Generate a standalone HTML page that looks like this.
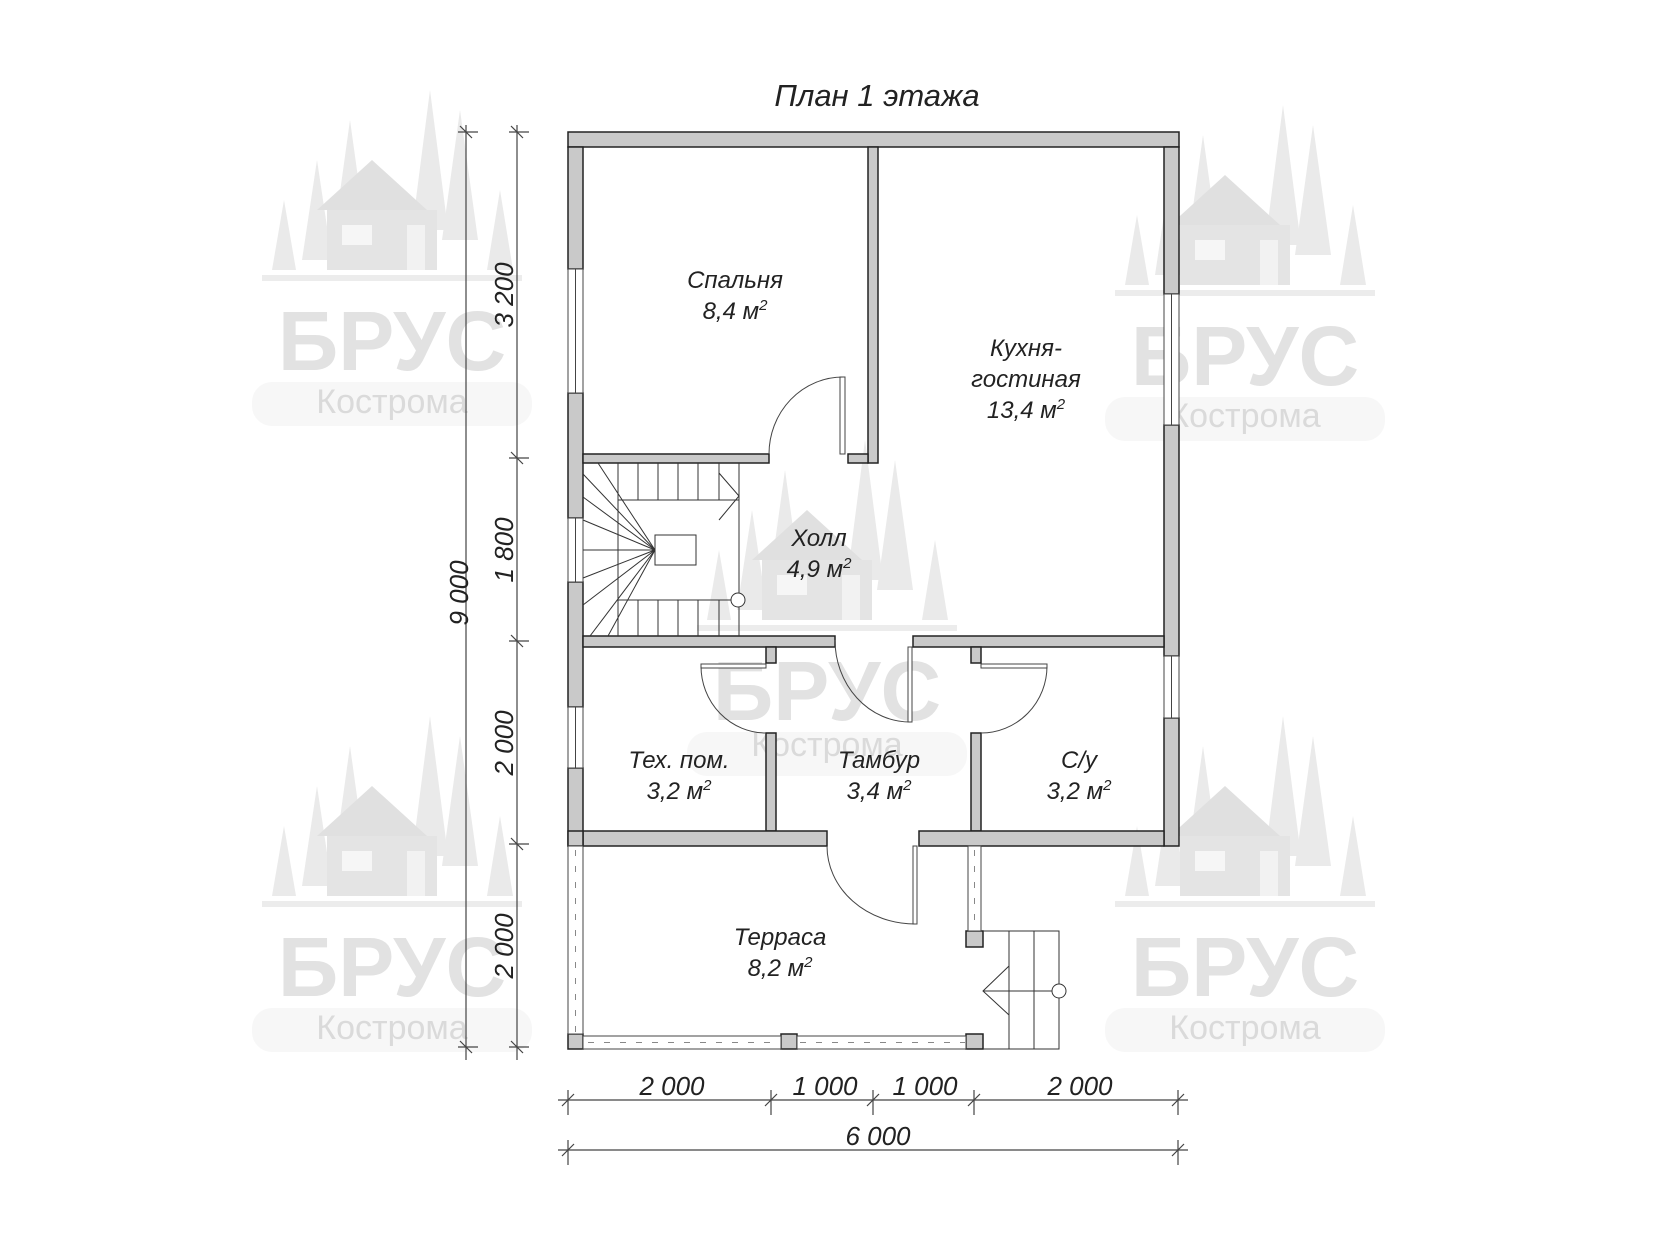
<!DOCTYPE html>
<html><head><meta charset="utf-8"><style>
html,body{margin:0;padding:0;background:#fff;}
svg{display:block;}
text{font-family:"Liberation Sans",sans-serif;font-style:italic;fill:#222;}
.wm{font-style:normal;fill:#e2e2e2;font-weight:bold;}
.wk{font-style:normal;fill:#dadada;}
</style></head><body>
<svg width="1653" height="1240" viewBox="0 0 1653 1240" xmlns="http://www.w3.org/2000/svg">
<defs>
<g id="logo">
<g fill="#eaeaea">
<polygon points="-90,-10 -75,-110 -60,-10"/>
<polygon points="-60,-20 -42,-150 -24,-20"/>
<polygon points="20,-40 38,-180 56,-40"/>
<polygon points="50,-30 68,-160 86,-30"/>
<polygon points="-120,0 -108,-70 -96,0"/>
<polygon points="95,0 108,-80 121,0"/>
</g>
<polygon points="-75,-60 -20,-110 35,-60" fill="#e0e0e0"/>
<rect x="-65" y="-60" width="110" height="60" fill="#e4e4e4"/>
<rect x="-50" y="-45" width="30" height="20" fill="#f6f6f6"/>
<rect x="15" y="-45" width="18" height="45" fill="#f2f2f2"/>
<rect x="-130" y="5" width="260" height="6" fill="#ececec"/>
<rect x="-140" y="112" width="280" height="44" rx="20" fill="#f7f7f7"/>
</g>
</defs>
<use href="#logo" x="392" y="270"/>
<use href="#logo" x="392" y="896"/>
<use href="#logo" x="1245" y="285"/>
<use href="#logo" x="1245" y="896"/>
<use href="#logo" x="827" y="620"/>
<g text-anchor="middle">
<text class="wm" x="392" y="370" font-size="84">БРУС</text>
<text class="wk" x="392" y="413" font-size="34">Кострома</text>
<text class="wm" x="392" y="996" font-size="84">БРУС</text>
<text class="wk" x="392" y="1039" font-size="34">Кострома</text>
<text class="wm" x="1245" y="385" font-size="84">БРУС</text>
<text class="wk" x="1245" y="427" font-size="34">Кострома</text>
<text class="wm" x="1245" y="996" font-size="84">БРУС</text>
<text class="wk" x="1245" y="1039" font-size="34">Кострома</text>
<text class="wm" x="827" y="720" font-size="84">БРУС</text>
<text class="wk" x="827" y="756" font-size="34">Кострома</text>
</g>

<text x="877" y="106" font-size="31" text-anchor="middle">План 1 этажа</text>

<g fill="#c9c9c9" stroke="#222" stroke-width="1.5">
<rect x="568" y="132" width="611" height="15"/>
<rect x="568" y="147" width="15" height="122"/>
<rect x="568" y="393" width="15" height="125"/>
<rect x="568" y="582" width="15" height="125"/>
<rect x="568" y="768" width="15" height="78"/>
<rect x="1164" y="147" width="15" height="147"/>
<rect x="1164" y="425" width="15" height="231"/>
<rect x="1164" y="718" width="15" height="128"/>
<rect x="868" y="147" width="10" height="316"/>
<rect x="583" y="454" width="186" height="9"/>
<rect x="848" y="454" width="20" height="9"/>
<rect x="583" y="636" width="252" height="11"/>
<rect x="913" y="636" width="251" height="11"/>
<rect x="766" y="647" width="10" height="16"/>
<rect x="766" y="733" width="10" height="98"/>
<rect x="971" y="647" width="10" height="16"/>
<rect x="971" y="733" width="10" height="98"/>
<rect x="583" y="831" width="244" height="15"/>
<rect x="919" y="831" width="245" height="15"/>
<rect x="568" y="831" width="15" height="15"/>
<rect x="568" y="1034" width="15" height="15"/>
<rect x="781" y="1034" width="16" height="15"/>
<rect x="966" y="1034" width="17" height="15"/>
<rect x="966" y="931" width="17" height="16"/>
</g>

<g fill="#fff" stroke="#444" stroke-width="1">
<rect x="568" y="269" width="15" height="124"/><line x1="575.5" y1="269" x2="575.5" y2="393"/>
<rect x="568" y="518" width="15" height="64"/><line x1="575.5" y1="518" x2="575.5" y2="582"/>
<rect x="568" y="707" width="15" height="61"/><line x1="575.5" y1="707" x2="575.5" y2="768"/>
<rect x="1164" y="294" width="15" height="131"/><line x1="1171.5" y1="294" x2="1171.5" y2="425"/>
<rect x="1164" y="656" width="15" height="62"/><line x1="1171.5" y1="656" x2="1171.5" y2="718"/>
<rect x="568" y="846" width="15" height="188"/>
<rect x="583" y="1036" width="198" height="13"/>
<rect x="797" y="1036" width="169" height="13"/>
<rect x="968" y="846" width="13" height="85"/>
</g>
<g stroke="#888" stroke-width="1" stroke-dasharray="6,10">
<line x1="575.5" y1="850" x2="575.5" y2="1032"/>
<line x1="588" y1="1042.5" x2="780" y2="1042.5"/>
<line x1="800" y1="1042.5" x2="965" y2="1042.5"/>
<line x1="974.5" y1="850" x2="974.5" y2="930"/>
</g>

<g fill="none" stroke="#444" stroke-width="1">
<rect x="840" y="377" width="5" height="77" fill="#fff"/>
<path d="M843 377 A74 77 0 0 0 769 454"/>
<rect x="908" y="647" width="4" height="75" fill="#fff"/>
<path d="M835 640 A75 82 0 0 0 910 722"/>
<rect x="701" y="664" width="65" height="4" fill="#fff"/>
<path d="M701 666 A65 67 0 0 0 766 733"/>
<rect x="981" y="664" width="66" height="4" fill="#fff"/>
<path d="M1047 666 A66 67 0 0 1 981 733"/>
<rect x="913" y="846" width="4" height="78" fill="#fff"/>
<path d="M827 846 A88 78 0 0 0 915 924"/>
</g>

<g fill="none" stroke="#333" stroke-width="1">
<line x1="739" y1="463" x2="739" y2="636"/>
<rect x="618" y="500" width="121" height="100"/>
<rect x="655" y="535" width="41" height="30" fill="#fff"/>
<line x1="638" y1="463" x2="638" y2="500"/>
<line x1="658" y1="463" x2="658" y2="500"/>
<line x1="678" y1="463" x2="678" y2="500"/>
<line x1="698" y1="463" x2="698" y2="500"/>
<line x1="719" y1="463" x2="719" y2="500"/>
<line x1="638" y1="600" x2="638" y2="636"/>
<line x1="658" y1="600" x2="658" y2="636"/>
<line x1="678" y1="600" x2="678" y2="636"/>
<line x1="698" y1="600" x2="698" y2="636"/>
<line x1="719" y1="600" x2="719" y2="636"/>
<line x1="618" y1="463" x2="618" y2="636"/>
<line x1="655" y1="550" x2="598" y2="463"/>
<line x1="655" y1="550" x2="583" y2="474"/>
<line x1="655" y1="550" x2="583" y2="497"/>
<line x1="655" y1="550" x2="583" y2="520"/>
<line x1="655" y1="550" x2="583" y2="550"/>
<line x1="655" y1="550" x2="583" y2="578"/>
<line x1="655" y1="550" x2="583" y2="605"/>
<line x1="655" y1="550" x2="590" y2="636"/>
<line x1="655" y1="550" x2="608" y2="636"/>
<polyline points="719,473 739,496 719,520"/>
<ellipse cx="738" cy="600" rx="7" ry="7" fill="#fff"/>
<polyline points="983,931 1059,931 1059,1049 983,1049"/>
<line x1="1009" y1="931" x2="1009" y2="1049"/>
<line x1="1034" y1="931" x2="1034" y2="1049"/>
<line x1="983" y1="991" x2="1059" y2="991"/>
<polyline points="1009,966 983,991 1009,1015"/>
<ellipse cx="1059" cy="991" rx="7" ry="7" fill="#fff"/>
</g>

<g font-size="24" text-anchor="middle">
<text x="735" y="288">Спальня</text>
<text x="735" y="319">8,4 м<tspan font-size="15" dy="-9">2</tspan></text>
<text x="1026" y="356">Кухня-</text>
<text x="1026" y="387">гостиная</text>
<text x="1026" y="418">13,4 м<tspan font-size="15" dy="-9">2</tspan></text>
<text x="819" y="546">Холл</text>
<text x="819" y="577">4,9 м<tspan font-size="15" dy="-9">2</tspan></text>
<text x="679" y="768">Тех. пом.</text>
<text x="679" y="799">3,2 м<tspan font-size="15" dy="-9">2</tspan></text>
<text x="879" y="768">Тамбур</text>
<text x="879" y="799">3,4 м<tspan font-size="15" dy="-9">2</tspan></text>
<text x="1079" y="768">С/у</text>
<text x="1079" y="799">3,2 м<tspan font-size="15" dy="-9">2</tspan></text>
<text x="780" y="945">Терраса</text>
<text x="780" y="976">8,2 м<tspan font-size="15" dy="-9">2</tspan></text>
</g>

<g stroke="#444" stroke-width="1.2" fill="none">
<line x1="466" y1="125" x2="466" y2="1060"/>
<line x1="517" y1="125" x2="517" y2="1060"/>
<line x1="458" y1="132" x2="478" y2="132"/><line x1="460" y1="126" x2="472" y2="138"/>
<line x1="458" y1="1047" x2="478" y2="1047"/><line x1="460" y1="1041" x2="472" y2="1053"/>
<line x1="509" y1="132" x2="529" y2="132"/><line x1="511" y1="126" x2="523" y2="138"/>
<line x1="509" y1="458" x2="529" y2="458"/><line x1="511" y1="452" x2="523" y2="464"/>
<line x1="509" y1="641" x2="529" y2="641"/><line x1="511" y1="635" x2="523" y2="647"/>
<line x1="509" y1="844" x2="529" y2="844"/><line x1="511" y1="838" x2="523" y2="850"/>
<line x1="509" y1="1047" x2="529" y2="1047"/><line x1="511" y1="1041" x2="523" y2="1053"/>
<line x1="558" y1="1100" x2="1188" y2="1100"/>
<line x1="558" y1="1150" x2="1188" y2="1150"/>
<line x1="568" y1="1090" x2="568" y2="1115"/><line x1="562" y1="1106" x2="574" y2="1094"/>
<line x1="771" y1="1090" x2="771" y2="1115"/><line x1="765" y1="1106" x2="777" y2="1094"/>
<line x1="873" y1="1090" x2="873" y2="1115"/><line x1="867" y1="1106" x2="879" y2="1094"/>
<line x1="974" y1="1090" x2="974" y2="1115"/><line x1="968" y1="1106" x2="980" y2="1094"/>
<line x1="1178" y1="1090" x2="1178" y2="1115"/><line x1="1172" y1="1106" x2="1184" y2="1094"/>
<line x1="568" y1="1140" x2="568" y2="1165"/><line x1="562" y1="1156" x2="574" y2="1144"/>
<line x1="1178" y1="1140" x2="1178" y2="1165"/><line x1="1172" y1="1156" x2="1184" y2="1144"/>
</g>
<g font-size="26" text-anchor="middle">
<text x="672" y="1095">2 000</text>
<text x="825" y="1095">1 000</text>
<text x="925" y="1095">1 000</text>
<text x="1080" y="1095">2 000</text>
<text x="878" y="1145">6 000</text>
<text transform="translate(468,593) rotate(-90)">9 000</text>
<text transform="translate(513,295) rotate(-90)">3 200</text>
<text transform="translate(513,550) rotate(-90)">1 800</text>
<text transform="translate(513,743) rotate(-90)">2 000</text>
<text transform="translate(513,946) rotate(-90)">2 000</text>
</g>
</svg>
</body></html>
